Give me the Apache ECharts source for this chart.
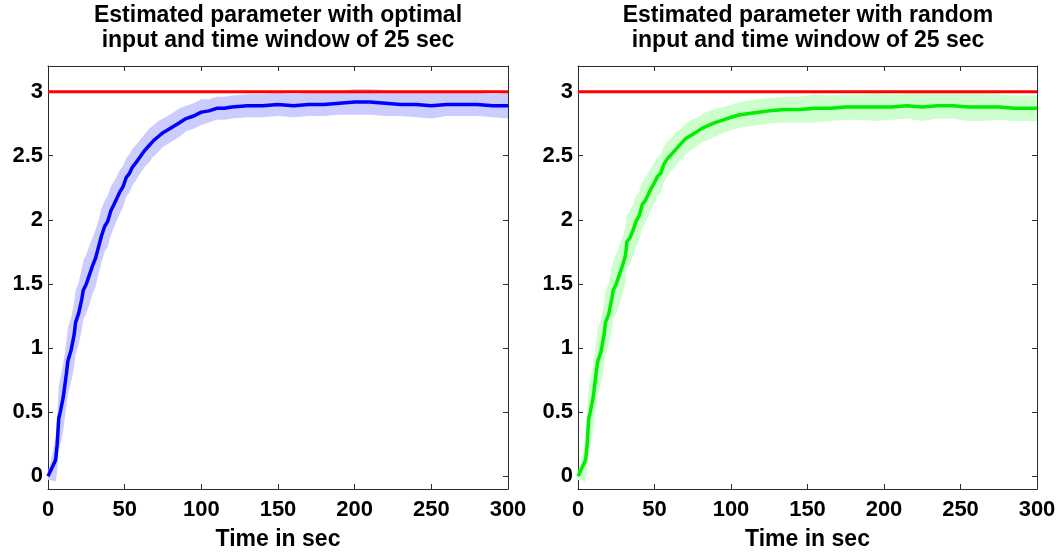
<!DOCTYPE html>
<html>
<head>
<meta charset="utf-8">
<script src="https://cdn.jsdelivr.net/npm/echarts@6/dist/echarts.min.js"></script>
<style>html,body{margin:0;padding:0;background:#fff}#c{width:1062px;height:557px}</style>
</head>
<body>
<div id="c"></div>
<script>
// ---- data ----
const titles = ['Estimated parameter with optimal\ninput and time window of 25 sec',
                'Estimated parameter with random\ninput and time window of 25 sec'];
const xTicks = [0, 50, 100, 150, 200, 250, 300];
const yTicks = [0, 0.5, 1, 1.5, 2, 2.5, 3];
const trueValue = 3;

const tOpt = [0,2,4,5,6,7,8,10,12,13,15,17,18,20,22,23,25,27,29,31,33,35,37,39,41,43,45,47,49,51,53,55,57,60,63,66,69,72,75,78,82,86,90,95,100,105,110,115,120,130,140,150,160,170,180,190,200,210,220,230,240,250,260,270,280,290,300];
const meanOpt = [0,0.05,0.10,0.13,0.25,0.45,0.50,0.62,0.80,0.90,0.98,1.10,1.20,1.27,1.38,1.45,1.50,1.57,1.64,1.70,1.79,1.88,1.95,1.99,2.07,2.12,2.17,2.22,2.26,2.33,2.36,2.41,2.44,2.49,2.54,2.58,2.62,2.65,2.68,2.70,2.73,2.76,2.79,2.81,2.84,2.85,2.87,2.87,2.88,2.89,2.89,2.90,2.89,2.90,2.90,2.91,2.92,2.92,2.91,2.90,2.90,2.89,2.90,2.90,2.90,2.89,2.89];
const spreadOpt = [0.03,0.08,0.14,0.17,0.21,0.25,0.26,0.26,0.25,0.26,0.25,0.25,0.25,0.24,0.24,0.23,0.23,0.23,0.22,0.22,0.21,0.21,0.20,0.20,0.19,0.18,0.17,0.17,0.16,0.15,0.15,0.14,0.14,0.13,0.13,0.13,0.12,0.12,0.11,0.11,0.11,0.11,0.10,0.10,0.10,0.09,0.09,0.09,0.09,0.09,0.09,0.09,0.09,0.09,0.09,0.09,0.10,0.10,0.10,0.09,0.10,0.10,0.09,0.09,0.09,0.09,0.10];

const tRnd = [0,2,4,5,6,7,8,10,12,13,15,17,18,20,22,23,25,27,29,31,32,34,36,38,40,42,44,46,48,50,52,54,56,58,61,64,67,70,74,78,82,86,90,95,100,106,112,118,125,135,145,155,165,175,185,195,205,215,225,235,245,255,265,275,285,300];
const meanRnd = [0,0.05,0.10,0.13,0.25,0.45,0.50,0.62,0.82,0.90,0.97,1.10,1.20,1.26,1.38,1.45,1.50,1.57,1.64,1.72,1.83,1.86,1.92,1.99,2.03,2.12,2.15,2.20,2.25,2.29,2.34,2.36,2.43,2.47,2.51,2.55,2.59,2.63,2.66,2.69,2.72,2.74,2.76,2.78,2.80,2.82,2.83,2.84,2.85,2.86,2.86,2.87,2.87,2.88,2.88,2.88,2.88,2.89,2.88,2.89,2.89,2.88,2.88,2.88,2.87,2.87];
const spreadRnd = [0.03,0.08,0.14,0.17,0.21,0.25,0.26,0.26,0.25,0.26,0.25,0.25,0.25,0.24,0.24,0.23,0.23,0.23,0.22,0.22,0.21,0.21,0.20,0.20,0.19,0.18,0.17,0.17,0.16,0.16,0.15,0.15,0.14,0.14,0.13,0.13,0.12,0.12,0.12,0.11,0.11,0.11,0.11,0.10,0.10,0.10,0.10,0.10,0.10,0.10,0.10,0.11,0.10,0.10,0.10,0.11,0.10,0.10,0.11,0.10,0.10,0.11,0.11,0.10,0.10,0.10];

// ---- chart ----
const FONT = '"Liberation Sans", Arial, Helvetica, sans-serif';
const axisColor = '#2b2b2b';
const chart = echarts.init(document.getElementById('c'), null, {renderer: 'canvas'});

const grids = [
  {left: 48, right: 554, top: 66, bottom: 68},
  {left: 578, right: 25, top: 66, bottom: 68}
];

const xAxes = [], yAxes = [];
grids.forEach((g, gi) => {
  const base = {
    type: 'value', gridIndex: gi, min: 0, max: 300, interval: 50,
    axisLine: {show: true, onZero: false, lineStyle: {color: axisColor, width: 1}},
    axisTick: {show: true, inside: true, length: 5, lineStyle: {color: axisColor}},
    splitLine: {show: false}
  };
  xAxes.push(Object.assign({}, base, {
    position: 'bottom',
    axisLabel: {show: true, color: '#000', fontFamily: FONT, fontWeight: 'bold', fontSize: 22, margin: 10,
      customValues: xTicks},
    name: 'Time in sec', nameLocation: 'middle', nameGap: 39,
    nameTextStyle: {color: '#000', fontFamily: FONT, fontWeight: 'bold', fontSize: 23}
  }));
  xAxes.push(Object.assign({}, base, {position: 'top', axisLabel: {show: false}}));
  const ybase = {
    type: 'value', gridIndex: gi, min: -0.1, max: 3.2,
    axisLine: {show: true, onZero: false, lineStyle: {color: axisColor, width: 1}},
    axisTick: {show: true, inside: true, length: 5, lineStyle: {color: axisColor}, customValues: yTicks},
    splitLine: {show: false}
  };
  yAxes.push(Object.assign({}, ybase, {
    position: 'left',
    axisLabel: {show: true, color: '#000', fontFamily: FONT, fontWeight: 'bold', fontSize: 22, margin: 5,
      customValues: yTicks, formatter: v => String(v)}
  }));
  yAxes.push(Object.assign({}, ybase, {position: 'right', axisLabel: {show: false}}));
});

function band(times, mean, spread, color, gi) {
  const data = times.map((t, i) => [t, mean[i] - spread[i], mean[i] + spread[i]]);
  return {
    type: 'custom', xAxisIndex: gi * 2, yAxisIndex: gi * 2, data: data,
    encode: {x: 0, y: [1, 2]}, silent: true, z: 1, clip: true,
    renderItem: function (params, api) {
      if (params.dataIndex !== 0) return null;
      const up = data.map(d => api.coord([d[0], d[2]]));
      const lo = data.map(d => api.coord([d[0], d[1]])).reverse();
      return {type: 'polygon', shape: {points: up.concat(lo)}, style: {fill: color}};
    }
  };
}
function meanLine(times, mean, color, gi) {
  return {
    type: 'line', xAxisIndex: gi * 2, yAxisIndex: gi * 2,
    data: times.map((t, i) => [t, mean[i]]), showSymbol: false, symbol: 'none',
    lineStyle: {color: color, width: 3.5}, z: 3, silent: true
  };
}
function refLine(gi) {
  return {
    type: 'line', xAxisIndex: gi * 2, yAxisIndex: gi * 2,
    data: [[0, trueValue], [300, trueValue]], showSymbol: false, symbol: 'none',
    lineStyle: {color: '#ff0000', width: 3}, z: 4, silent: true
  };
}

chart.setOption({
  animation: false,
  backgroundColor: '#fff',
  title: titles.map((t, i) => ({
    text: t, left: i === 0 ? 278 : 808, top: 3, padding: 0, textAlign: 'center',
    textStyle: {fontFamily: FONT, fontWeight: 'bold', fontSize: 23, color: '#000', lineHeight: 25}
  })),
  grid: grids,
  xAxis: xAxes,
  yAxis: yAxes,
  series: [
    band(tOpt, meanOpt, spreadOpt, 'rgb(204,204,255)', 0),
    meanLine(tOpt, meanOpt, '#0000ff', 0),
    refLine(0),
    band(tRnd, meanRnd, spreadRnd, 'rgb(204,255,204)', 1),
    meanLine(tRnd, meanRnd, '#00ee00', 1),
    refLine(1)
  ]
});
</script>
</body>
</html>
